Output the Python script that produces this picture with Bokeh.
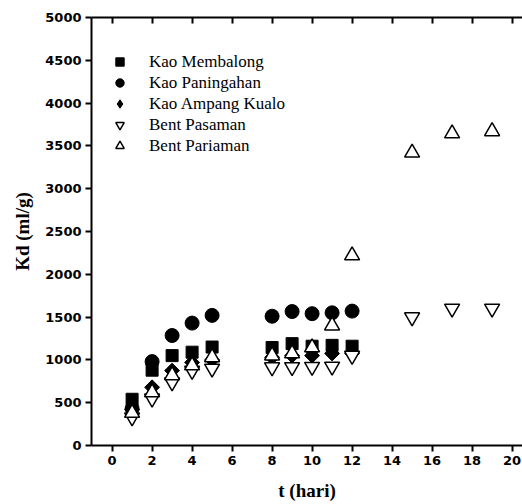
import math
from bokeh.plotting import figure
from bokeh.models import LinearAxis, Legend, LegendItem, FixedTicker, Range1d
from bokeh.embed import file_html
from bokeh.resources import INLINE

# ---- data ----
t_kao = [1, 2, 3, 4, 5, 8, 9, 10, 11, 12]
kao_membalong = [540, 880, 1050, 1090, 1150, 1145, 1190, 1160, 1170, 1160]
kao_paningahan = [430, 980, 1285, 1430, 1520, 1510, 1565, 1540, 1550, 1570]
kao_ampang_kualo = [420, 680, 875, 970, 1000, 1030, 1050, 1050, 1075, 1075]

t_bent = [1, 2, 3, 4, 5, 8, 9, 10, 11, 12, 15, 17, 19]
bent_pasaman = [330, 550, 740, 875, 900, 915, 917, 920, 923, 1050, 1500, 1600, 1600]
bent_pariaman = [380, 620, 820, 935, 1030, 1050, 1075, 1145, 1400, 2220, 3420, 3645, 3670]

x_ticks = [0, 2, 4, 6, 8, 10, 12, 14, 16, 18, 20]
y_ticks = [0, 500, 1000, 1500, 2000, 2500, 3000, 3500, 4000, 4500, 5000]

p = figure(width=522, height=504, output_backend="svg", toolbar_location=None,
           x_range=Range1d(-1.03, 20.52), y_range=Range1d(0, 5000),
           min_border_left=91, min_border_right=0, min_border_top=17, min_border_bottom=59)
p.outline_line_color = None
p.xgrid.visible = False
p.ygrid.visible = False
p.background_fill_color = "white"

tick_font = "DejaVu Sans"
for ax in (p.xaxis[0], p.yaxis[0]):
    ax.axis_line_width = 2
    ax.axis_line_color = "black"
    ax.major_tick_line_width = 2
    ax.major_tick_out = 6
    ax.major_tick_in = 0
    ax.minor_tick_line_color = None
    ax.major_label_text_font = tick_font
    ax.major_label_text_font_style = "bold"
    ax.major_label_text_font_size = "13px"
    ax.major_label_text_color = "black"
    ax.major_label_standoff = 4
    ax.axis_label_text_font = "Liberation Serif"
    ax.axis_label_text_font_style = "bold"
    ax.axis_label_text_font_size = "19px"
    ax.axis_label_text_color = "black"

p.xaxis[0].ticker = FixedTicker(ticks=x_ticks)
p.yaxis[0].ticker = FixedTicker(ticks=y_ticks)
p.xaxis[0].axis_label = "t (hari)"
p.yaxis[0].axis_label = "Kd (ml/g)"
p.xaxis[0].axis_label_standoff = 12
p.yaxis[0].axis_label_standoff = 9

top = LinearAxis(ticker=FixedTicker(ticks=x_ticks))
top.axis_line_width = 2
top.major_tick_line_width = 2
top.major_tick_in = 6
top.major_tick_out = 0
top.minor_tick_line_color = None
top.major_label_overrides = {t: "" for t in x_ticks}
top.major_label_standoff = 0
p.add_layout(top, "above")

r1 = p.scatter(t_kao, kao_membalong, marker="square", size=12,
               fill_color="black", line_color="black")
r2 = p.scatter(t_kao, kao_paningahan, marker="circle", size=14,
               fill_color="black", line_color="black")
r3 = p.scatter(t_kao, kao_ampang_kualo, marker="square", size=10.5, angle=math.pi / 4,
               fill_color="black", line_color="black")
r4 = p.scatter(t_bent, bent_pasaman, marker="inverted_triangle", size=15,
               fill_color="white", line_color="black", line_width=1.5)
r5 = p.scatter(t_bent, bent_pariaman, marker="triangle", size=15,
               fill_color="white", line_color="black", line_width=1.5)
# legend key for the diamond symbol (legend glyphs ignore marker angle); draws nothing in the plot
r3_key = p.scatter(x=[math.nan], y=[math.nan], marker="diamond",
                   fill_color="black", line_color="black")

legend = Legend(items=[
    LegendItem(label="Kao Membalong", renderers=[r1]),
    LegendItem(label="Kao Paningahan", renderers=[r2]),
    LegendItem(label="Kao Ampang Kualo", renderers=[r3_key]),
    LegendItem(label="Bent Pasaman", renderers=[r4]),
    LegendItem(label="Bent Pariaman", renderers=[r5]),
], location=(18, 289))
legend.border_line_color = None
legend.background_fill_alpha = 0
legend.padding = 0
legend.margin = 0
legend.spacing = 0
legend.glyph_width = 21
legend.glyph_height = 21
legend.label_height = 21
legend.label_standoff = 19
legend.label_text_font = "Liberation Serif"
legend.label_text_font_size = "17px"
legend.label_text_color = "black"
p.add_layout(legend)

open("out.html", "w").write(file_html(p, INLINE))
